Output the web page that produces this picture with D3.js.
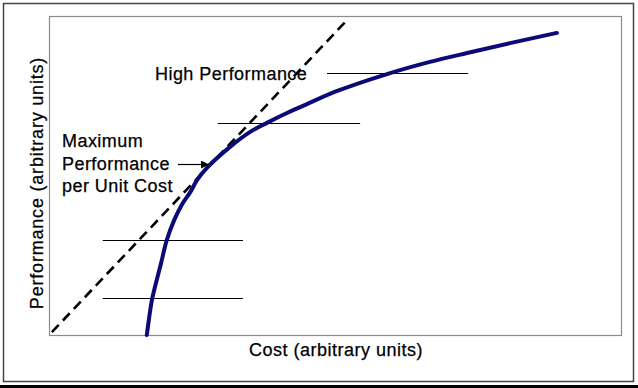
<!DOCTYPE html>
<html>
<head>
<meta charset="utf-8">
<script src="https://cdn.jsdelivr.net/npm/d3@7"></script>
<style>
  body { margin: 0; background: #fff; }
  text { font-family: Arial, "Liberation Sans", sans-serif; fill: #000; stroke: #000; stroke-width: 0.25px; }
</style>
</head>
<body>
<svg id="chart" width="638" height="388"></svg>
<script>
// performance vs cost curve (arbitrary units, 0-100)
var costValues = [17.1, 17.5, 18.0, 18.7, 19.6, 20.6, 21.9, 23.3, 24.7, 25.9, 27.6, 31.6, 35.1, 38.1, 41.6, 45.1, 50.4, 59.1, 66.6, 73.1, 80.6, 88.8];
var perfValues = [0, 5.3, 11.0, 16.3, 22.6, 29.8, 36.1, 41.1, 44.8, 48.6, 52.4, 58.9, 63.6, 66.5, 69.6, 72.4, 76.5, 81.8, 85.6, 88.4, 91.5, 94.7];

// tangent line: max performance per unit cost
var tangentCost = [0.5, 52.1];
var tangentPerf = [0.9, 98.7];

// horizontal reference lines [y, x0, x1]
var levelY = [11.6, 29.8, 66.5, 82.1];
var levelX0 = [9.4, 9.4, 29.5, 48.6];
var levelX1 = [33.9, 33.9, 54.4, 73.3];

var svg = d3.select("#chart"),
    width = +svg.attr("width"),
    height = +svg.attr("height");

var plot = { left: 49, top: 16, right: 621, bottom: 335 };

var x = d3.scaleLinear().domain([0, 100]).range([plot.left, plot.right]);
var y = d3.scaleLinear().domain([0, 100]).range([plot.bottom, plot.top]);

// outer frame
svg.append("rect")
    .attr("x", 3.5).attr("y", 3.5)
    .attr("width", 630).attr("height", 378)
    .attr("fill", "none")
    .attr("stroke", "#444")
    .attr("stroke-width", 1.5);
svg.append("rect")
    .attr("x", 0).attr("y", 385)
    .attr("width", width).attr("height", 3)
    .attr("fill", "#000");

// plot area
svg.append("rect")
    .attr("x", plot.left + 0.5).attr("y", plot.top + 0.5)
    .attr("width", plot.right - plot.left).attr("height", plot.bottom - plot.top)
    .attr("fill", "#fff")
    .attr("stroke", "#8c8c8c")
    .attr("stroke-width", 1.2);

// reference levels
svg.selectAll(".level")
    .data(levelY)
    .enter().append("line")
    .attr("class", "level")
    .attr("x1", function(d, i) { return x(levelX0[i]); })
    .attr("x2", function(d, i) { return x(levelX1[i]); })
    .attr("y1", function(d) { return Math.round(y(d)) + 0.5; })
    .attr("y2", function(d) { return Math.round(y(d)) + 0.5; })
    .attr("stroke", "#000")
    .attr("stroke-width", 1);

// dashed tangent
svg.append("line")
    .attr("x1", x(tangentCost[0])).attr("y1", y(tangentPerf[0]))
    .attr("x2", x(tangentCost[1])).attr("y2", y(tangentPerf[1]))
    .attr("stroke", "#000")
    .attr("stroke-width", 2.6)
    .attr("stroke-dasharray", "10,6");

// curve
var pts = costValues.map(function(c, i) { return [c, perfValues[i]]; });
var line = d3.line()
    .x(function(d) { return x(d[0]); })
    .y(function(d) { return y(d[1]); })
    .curve(d3.curveCatmullRom.alpha(0.5));

svg.append("path")
    .attr("d", line(pts))
    .attr("fill", "none")
    .attr("stroke", "#0a0a78")
    .attr("stroke-width", 4)
    .attr("stroke-linecap", "round");

// arrow
svg.append("defs").append("marker")
    .attr("id", "arrow")
    .attr("viewBox", "0 0 10 10")
    .attr("refX", 10).attr("refY", 5)
    .attr("markerWidth", 10).attr("markerHeight", 8)
    .attr("markerUnits", "userSpaceOnUse")
    .attr("orient", "auto")
    .append("path")
    .attr("d", "M0,0 L10,5 L0,10 z")
    .attr("fill", "#000");

svg.append("line")
    .attr("x1", 178).attr("y1", 164.5)
    .attr("x2", 209).attr("y2", 164.5)
    .attr("stroke", "#000")
    .attr("stroke-width", 1.2)
    .attr("marker-end", "url(#arrow)");

// labels
var fs = "18px";
svg.append("text")
    .attr("x", 155).attr("y", 80)
    .style("font-size", fs).style("letter-spacing", "0.45px")
    .text("High Performance");

svg.append("text")
    .attr("x", 62).attr("y", 147)
    .style("font-size", fs).style("letter-spacing", "0.45px")
    .selectAll("tspan")
    .data(["Maximum", "Performance", "per Unit Cost"])
    .enter().append("tspan")
    .attr("x", 62)
    .attr("dy", function(d, i) { return i ? 22.5 : 0; })
    .text(function(d) { return d; });

svg.append("text")
    .attr("x", (plot.left + plot.right) / 2 + 1)
    .attr("y", 356)
    .attr("text-anchor", "middle")
    .style("font-size", fs).style("letter-spacing", "0.5px")
    .text("Cost (arbitrary units)");

svg.append("text")
    .attr("transform", "translate(43," + 183 + ") rotate(-90)")
    .attr("text-anchor", "middle")
    .style("font-size", fs).style("letter-spacing", "0.8px")
    .text("Performance (arbitrary units)");
</script>
</body>
</html>
